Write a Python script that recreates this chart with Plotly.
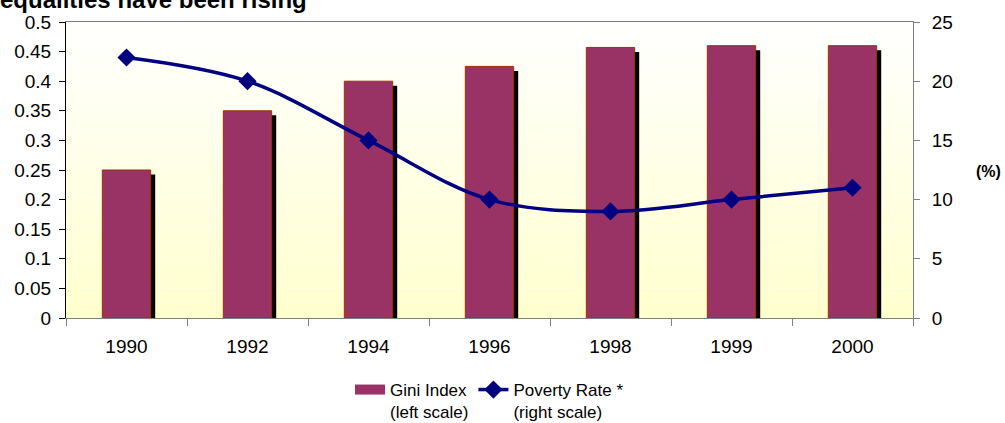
import plotly.graph_objects as go

years = ["1990", "1992", "1994", "1996", "1998", "1999", "2000"]
gini = [0.25, 0.35, 0.40, 0.425, 0.457, 0.46, 0.46]
poverty = [22, 20, 15, 10, 9, 10, 11]

pos = list(range(len(years)))

# plot area geometry (pixels)
W, H = 1005, 423
ml, mr, mt, mb = 66, 92, 22, 105
pw = W - ml - mr
ph = H - mt - mb
ncat = len(years)
dx = 4.5 / (pw / ncat)          # shadow offset in category units
dy = 4.5 * 0.5 / ph             # shadow offset in left-axis units

font_family = "Liberation Sans, Arial, sans-serif"
BAR = "#993366"
NAVY = "#000080"

fig = go.Figure()

# shadow bars
fig.add_trace(go.Bar(
    x=pos, y=gini, xaxis="x", yaxis="y", width=0.4,
    marker=dict(color="black", line=dict(width=0)),
    showlegend=False, hoverinfo="skip"))

# main bars
fig.add_trace(go.Bar(
    x=years, y=gini, xaxis="x2", yaxis="y2", width=0.4,
    marker=dict(color=BAR, line=dict(color="#993300", width=1)),
    name="Gini Index<br>(left scale)", showlegend=False))

# legend swatch for the bars (wide rectangle like the original)
fig.add_trace(go.Scatter(
    x=[None], y=[None], xaxis="x2", yaxis="y2", mode="lines",
    line=dict(color=BAR, width=12),
    name="Gini Index<br>(left scale)", hoverinfo="skip"))

# poverty line
fig.add_trace(go.Scatter(
    x=years, y=poverty, xaxis="x2", yaxis="y3",
    mode="lines+markers",
    line=dict(color=NAVY, width=3.5, shape="spline", smoothing=1),
    marker=dict(symbol="diamond", size=14, color=NAVY),
    name="Poverty Rate *<br>(right scale)"))

# gradient background
shapes = []
N = 60
for i in range(N):
    t = i / (N - 1)  # 0 bottom -> 1 top
    b = int(round(204 + (255 - 204) * t))
    shapes.append(dict(type="rect", xref="paper", yref="paper",
                       x0=0, x1=1, y0=i / N, y1=(i + 1) / N,
                       fillcolor=f"rgb(255,255,{b})", line=dict(width=0),
                       layer="below"))

tickfont = dict(family=font_family, size=19, color="black")

fig.update_layout(
    width=W, height=H,
    margin=dict(l=ml, r=mr, t=mt, b=mb, pad=0, autoexpand=False),
    paper_bgcolor="white",
    plot_bgcolor="rgba(0,0,0,0)",
    font=dict(family=font_family, color="black"),
    barmode="overlay",
    shapes=shapes,
    xaxis=dict(range=[-0.5 - dx, ncat - 0.5 - dx], visible=False,
               showgrid=False, zeroline=False),
    yaxis=dict(range=[dy, 0.5 + dy], visible=False,
               showgrid=False, zeroline=False),
    xaxis2=dict(type="category", overlaying="x", anchor="y2",
                range=[-0.5, ncat - 0.5], tickson="boundaries",
                ticks="outside", ticklen=7, tickcolor="#808080",
                ticklabelstandoff=11,
                showline=True, linecolor="#808080", linewidth=1, mirror=True,
                showgrid=False, zeroline=False, tickfont=tickfont),
    yaxis2=dict(overlaying="y", anchor="x2", side="left",
                range=[0, 0.5], dtick=0.05, tick0=0,
                ticks="outside", ticklen=6, tickcolor="black",
                ticklabelstandoff=4,
                showline=True, linecolor="black", linewidth=1,
                showgrid=False, zeroline=False, tickfont=tickfont),
    yaxis3=dict(overlaying="y", anchor="x2", side="right",
                range=[0, 25], dtick=5, tick0=0,
                ticks="outside", ticklen=6, tickcolor="#808080",
                ticklabelstandoff=8,
                showline=True, linecolor="#808080", linewidth=1,
                showgrid=False, zeroline=False, tickfont=tickfont),
    # inside halves of the crossing tick marks
    yaxis4=dict(overlaying="y", anchor="x2", side="left",
                range=[0, 0.5], dtick=0.05, tick0=0,
                ticks="inside", ticklen=6, tickcolor="black",
                showticklabels=False, showline=False,
                showgrid=False, zeroline=False),
    yaxis5=dict(overlaying="y", anchor="x2", side="right",
                range=[0, 25], dtick=5, tick0=0,
                ticks="inside", ticklen=6, tickcolor="#808080",
                showticklabels=False, showline=False,
                showgrid=False, zeroline=False),
    legend=dict(orientation="h", xref="paper", x=0.5, xanchor="center",
                yref="paper", y=-(372 - (H - mb)) / ph, yanchor="top", valign="top",
                font=dict(family=font_family, size=17, color="black"),
                bgcolor="rgba(0,0,0,0)", tracegroupgap=0,
                traceorder="normal"),
    annotations=[
        dict(text="<b>equalities have been rising</b>", xref="paper", yref="paper",
             x=-(ml + 2) / pw, y=1 + (mt - 15) / ph, xanchor="left", yanchor="bottom",
             showarrow=False, font=dict(family=font_family, size=24, color="black")),
        dict(text="<b>(%)</b>", xref="paper", yref="paper",
             x=(988 - ml) / pw, y=(H - mb - 171) / ph, xanchor="center", yanchor="middle",
             showarrow=False, font=dict(family=font_family, size=16, color="black")),
    ],
)

fig.write_html("out.html", config={"displayModeBar": False},
               post_script="document.body.style.margin='0';")
